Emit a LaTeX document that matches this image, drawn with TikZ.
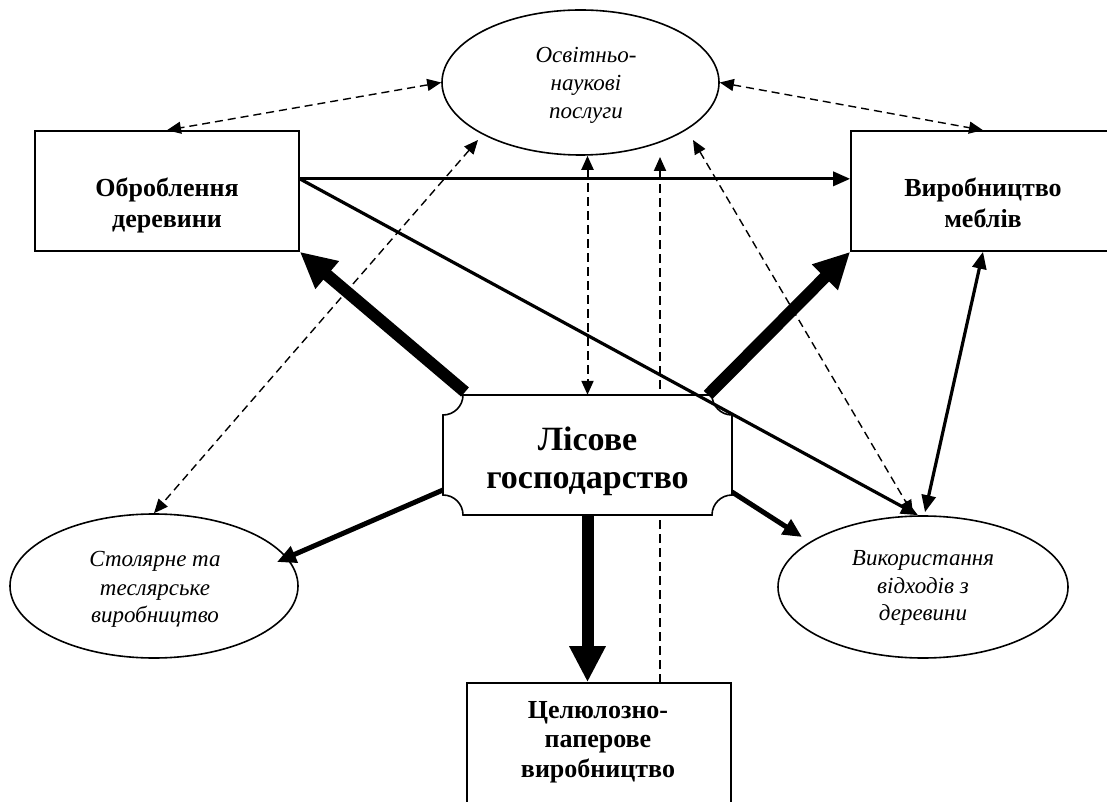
\documentclass[tikz,border=0pt]{standalone}
\usepackage{fontspec}
\setmainfont{Liberation Serif}
\usetikzlibrary{arrows.meta,calc,shapes.geometric}
\begin{document}
\begin{tikzpicture}[x=1pt,y=1pt,
 box/.style={draw, line width=1.6pt, rectangle, inner sep=0pt, fill=white},
 ell/.style={draw, line width=1.6pt, ellipse, inner sep=0pt, fill=white},
 btxt/.style={font=\fontsize{26}{30}\selectfont\bfseries, anchor=base, inner sep=0pt},
 bigtxt/.style={font=\fontsize{34}{38}\selectfont\bfseries, anchor=base, inner sep=0pt},
 itxt/.style={font=\fontsize{23}{28}\selectfont\itshape, anchor=base, inner sep=0pt},
 dtip/.tip={Triangle[length=14pt,width=12pt]},
 ttip/.tip={Triangle[length=36pt,width=34pt]},
 mtip/.tip={Triangle[length=19pt,width=17pt]},
 stip/.tip={Triangle[length=17pt,width=14pt]},
 dsh/.style={line width=1.4pt, dash pattern=on 8pt off 5pt},
 vdsh/.style={line width=2pt, dash pattern=on 9pt off 5pt},
 thickarr/.style={line width=12pt, -ttip},
 medarr/.style={line width=5pt, -mtip},
 solarr/.style={line width=3.2pt},
]
\useasboundingbox (0,0) rectangle (1107,801);
\clip (0,0) rectangle (1107,801);
\fill[white] (0,0) rectangle (1107,801);

% shapes (positions)
\node[ell, minimum width=277, minimum height=145] (osv) at (580.5,718.5) {};
\node[box, minimum width=264, minimum height=120] (obr) at (167,610) {};
\node[box, minimum width=264, minimum height=120] (vyr) at (983,610) {};
\node[inner sep=0pt, minimum width=289, minimum height=120] (lis) at (587.5,346) {};
\node[ell, minimum width=288, minimum height=144] (stol) at (154,215) {};
\node[ell, minimum width=290, minimum height=142] (vik) at (923,214) {};
\node[box, minimum width=264, minimum height=158] (cel) at (599,39) {};

% free ends
\coordinate (osvL) at (478,661);
\coordinate (osvR) at (693,661);
\coordinate (osvM) at (660,644);
\coordinate (celT) at (660,118);
\coordinate (lisTL) at (465,409);
\coordinate (lisTR) at (708,406);
\coordinate (lisL) at (443,311);
\coordinate (lisR) at (732,309);
\coordinate (stolE) at (277,239);
\coordinate (vikW) at (802,264);
\coordinate (obrE) at ($(obr.north east)!0.4!(obr.south east)$);
\coordinate (vyrW) at ($(vyr.north west)!0.4!(vyr.south west)$);

% dashed connectors
\draw[dsh, dtip-dtip] (osv.west) -- (obr.north);
\draw[dsh, dtip-dtip] (osv.east) -- (vyr.north);
\draw[dsh, dtip-dtip] (osvL) -- (stol.north);
\draw[dsh, dtip-dtip] (osvR) -- ($(vik.north)+(-10,1)$);
\draw[vdsh, dtip-dtip] (lis.north |- osv.south) -- (lis.north);
\draw[vdsh, -dtip] (celT) -- (osvM);

% central notched box
\draw[line width=1.6pt, fill=white]
  (463,406) -- (712,406) arc[start angle=180, end angle=270, radius=20pt]
  -- (732,306) arc[start angle=90, end angle=180, radius=20pt]
  -- (463,286) arc[start angle=0, end angle=90, radius=20pt]
  -- (443,386) arc[start angle=-90, end angle=0, radius=20pt] -- cycle;

% solid connectors
\draw[solarr, -stip] (obrE) -- (vyrW);
\draw[solarr, -stip] (obrE) -- ($(vik.north)+(-5,0)$);
\draw[solarr, stip-stip] (vyr.south) -- ($(vik.north)+(2,3)$);
\draw[thickarr] (lisTL) -- (obr.south east);
\draw[thickarr] (lisTR) -- (vyr.south west);
\draw[thickarr] (lis.south) -- (lis.south |- cel.north);
\draw[medarr] (lisL) -- (stolE);
\draw[medarr] (lisR) -- (vikW);

% texts
\node[itxt] (osv1) at (586,738) {Освітньо-};
\node[itxt] (osv2) at (586,710) {наукові};
\node[itxt] (osv3) at (586,682) {послуги};
\node[btxt] (obr1) at (167,604) {Оброблення};
\node[btxt] (obr2) at (167,573) {деревини};
\node[btxt] (vyr1) at (983,604) {Виробництво};
\node[btxt] (vyr2) at (983,573) {меблів};
\node[bigtxt] (lis1) at (587.5,350) {Лісове};
\node[bigtxt] (lis2) at (587.5,313) {господарство};
\node[itxt] (stol1) at (155,235) {Столярне та};
\node[itxt] (stol2) at (155,206) {теслярське};
\node[itxt] (stol3) at (155,179) {виробництво};
\node[itxt] (vik1) at (923,236) {Використання};
\node[itxt] (vik2) at (923,208) {відходів з};
\node[itxt] (vik3) at (923,181) {деревини};
\node[btxt] (cel1) at (598,83) {Целюлозно-};
\node[btxt] (cel2) at (598,54) {паперове};
\node[btxt] (cel3) at (598,24) {виробництво};
\end{tikzpicture}
\end{document}
